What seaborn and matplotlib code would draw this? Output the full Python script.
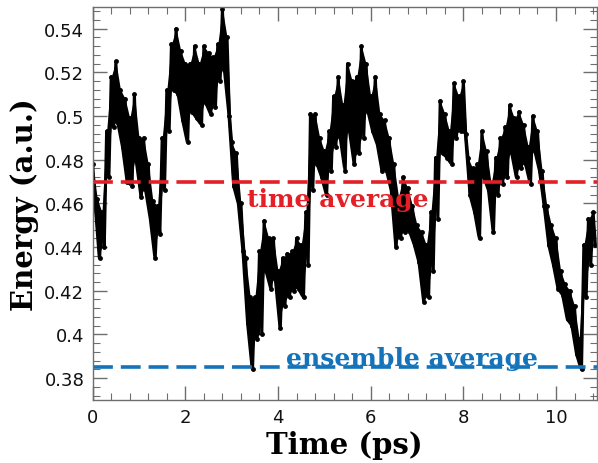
import numpy as np
import pandas as pd
import matplotlib
matplotlib.use("Agg")
import matplotlib.pyplot as plt
import seaborn as sns
from matplotlib.ticker import MultipleLocator, FuncFormatter

# Envelope of the energy trajectory read every 0.1 ps (upper / lower edge of the dense band)
grid_ps = [round(0.1 * i, 1) for i in range(109)]
energy_hi = [0.478, 0.462, 0.456, 0.493, 0.518, 0.525, 0.512, 0.508, 0.499, 0.510,
             0.490, 0.490, 0.478, 0.461, 0.459, 0.490, 0.512, 0.533, 0.540, 0.530,
             0.524, 0.524, 0.532, 0.524, 0.532, 0.529, 0.527, 0.533, 0.549, 0.536,
             0.488, 0.483, 0.460, 0.435, 0.417, 0.417, 0.438, 0.452, 0.444, 0.444,
             0.429, 0.435, 0.437, 0.438, 0.444, 0.441, 0.456, 0.501, 0.501, 0.490,
             0.484, 0.493, 0.509, 0.518, 0.505, 0.524, 0.516, 0.518, 0.532, 0.524,
             0.509, 0.518, 0.501, 0.498, 0.490, 0.478, 0.463, 0.472, 0.467, 0.459,
             0.450, 0.447, 0.441, 0.456, 0.481, 0.507, 0.501, 0.493, 0.515, 0.509,
             0.516, 0.481, 0.476, 0.478, 0.493, 0.484, 0.469, 0.481, 0.490, 0.495,
             0.505, 0.499, 0.502, 0.496, 0.486, 0.500, 0.493, 0.475, 0.459, 0.450,
             0.444, 0.429, 0.423, 0.420, 0.413, 0.398, 0.441, 0.453, 0.456]
energy_lo = [0.462, 0.435, 0.440, 0.472, 0.495, 0.497, 0.486, 0.470, 0.468, 0.479,
             0.463, 0.466, 0.453, 0.435, 0.446, 0.466, 0.493, 0.512, 0.510, 0.498,
             0.488, 0.502, 0.499, 0.496, 0.506, 0.501, 0.504, 0.516, 0.521, 0.500,
             0.468, 0.460, 0.438, 0.405, 0.384, 0.398, 0.400, 0.429, 0.421, 0.425,
             0.403, 0.413, 0.417, 0.420, 0.421, 0.417, 0.432, 0.466, 0.478, 0.472,
             0.464, 0.475, 0.486, 0.490, 0.475, 0.493, 0.478, 0.483, 0.490, 0.502,
             0.493, 0.487, 0.475, 0.475, 0.466, 0.440, 0.444, 0.447, 0.447, 0.441,
             0.433, 0.415, 0.417, 0.429, 0.453, 0.483, 0.481, 0.478, 0.490, 0.493,
             0.492, 0.464, 0.456, 0.444, 0.472, 0.466, 0.447, 0.464, 0.469, 0.472,
             0.483, 0.472, 0.476, 0.478, 0.469, 0.484, 0.475, 0.459, 0.441, 0.432,
             0.421, 0.418, 0.407, 0.404, 0.391, 0.384, 0.417, 0.432, 0.441]

time_average = 0.470
ensemble_average = 0.385
x_ticks = [0, 2, 4, 6, 8, 10]
y_ticks = [0.38, 0.40, 0.42, 0.44, 0.46, 0.48, 0.50, 0.52, 0.54]

# Build the trajectory: upper edge at t, lower edge at t + 0.05 ps
rows = []
for t, hi, lo in zip(grid_ps, energy_hi, energy_lo):
    rows.append((t, hi))
    rows.append((t + 0.05, lo))
df = pd.DataFrame(rows, columns=["Time (ps)", "Energy (a.u.)"])

sns.set_style("white")
plt.rcParams["font.family"] = ["DejaVu Sans"]

fig = plt.figure(figsize=(5.98, 4.64), dpi=100)
ax = fig.add_axes([0.155, 0.136, 0.843, 0.847])

# dense band of the trajectory
ax.fill_between(grid_ps, energy_lo, energy_hi, color="black", lw=0)
sns.lineplot(data=df, x="Time (ps)", y="Energy (a.u.)", ax=ax, estimator=None,
             sort=False, color="black", lw=2.2, marker="o", markersize=3.5,
             markeredgewidth=0)

ax.axhline(time_average, color="#e41f26", lw=2.6, dashes=(5.5, 2.2))
ax.axhline(ensemble_average, color="#1473b9", lw=2.6, dashes=(5.5, 2.2))

ax.text(5.3, 0.4618, "time average", color="#e41f26", fontsize=18,
        fontweight="bold", family="DejaVu Serif", ha="center", va="center")
ax.text(6.9, 0.3893, "ensemble average", color="#1473b9", fontsize=18,
        fontweight="bold", family="DejaVu Serif", ha="center", va="center")

ax.set_xlim(0, 10.88)
ax.set_ylim(0.37, 0.55)
ax.set_xticks(x_ticks)
ax.set_yticks(y_ticks)
ax.xaxis.set_minor_locator(MultipleLocator(0.4))
ax.yaxis.set_minor_locator(MultipleLocator(0.004))
ax.yaxis.set_major_formatter(FuncFormatter(lambda v, p: "%g" % round(v, 3)))
ax.tick_params(which="both", direction="in", bottom=True, left=True, top=True,
               right=True, color="#6e6e6e", labelsize=13, labelcolor="#111111")
ax.tick_params(which="major", length=10, width=1, pad=6)
ax.tick_params(which="minor", length=5, width=0.8)
for s in ax.spines.values():
    s.set_color("#6e6e6e")
    s.set_linewidth(1)

ax.set_xlabel("Time (ps)", fontsize=21, fontweight="bold", family="DejaVu Serif",
              labelpad=3, color="black")
ax.set_ylabel("Energy (a.u.)", fontsize=21, fontweight="bold", family="DejaVu Serif",
              labelpad=4, color="black")

fig.savefig("out.png", dpi=100)
